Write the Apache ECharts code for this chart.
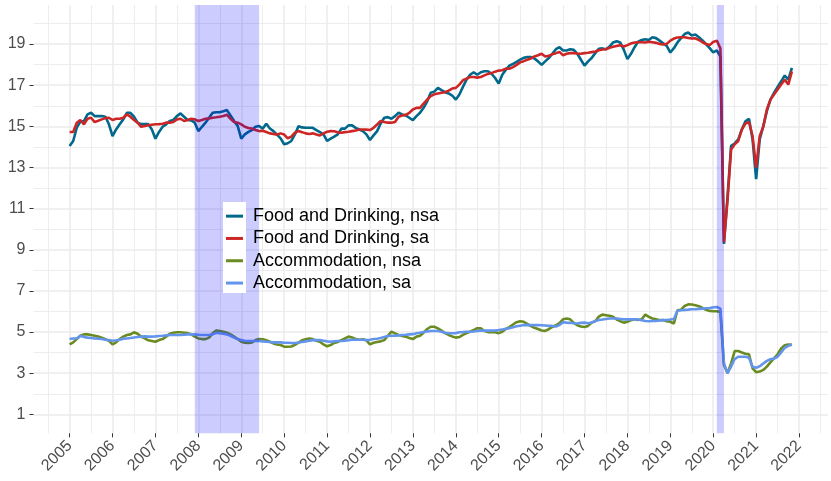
<!DOCTYPE html>
<html lang="en">
<head>
    <meta charset="UTF-8">
    <title>Food and Drinking / Accommodation</title>
    <script src="https://cdn.jsdelivr.net/npm/echarts@6/dist/echarts.min.js"></script>
    <style>html, body { margin: 0; padding: 0; background: #fff; }</style>
</head>
<body>
    <div id="chart" style="width: 831px; height: 481px;"></div>
    <script>
        // monthly series, first value = Jan 2005
        const startYear = 2005;

        const foodNsa = [
            14.05, 14.29, 14.94, 15.23, 15.26, 15.58, 15.66, 15.5, 15.5, 15.5, 15.47, 15.1,
            14.53, 14.85, 15.1, 15.34, 15.66, 15.66, 15.47, 15.18, 15.11, 15.11, 15.11, 14.85,
            14.4, 14.73, 14.98, 15.1, 15.26, 15.31, 15.5, 15.63, 15.47, 15.31, 15.29, 15.18,
            14.77, 14.98, 15.18, 15.42, 15.66, 15.69, 15.69, 15.74, 15.79, 15.53, 15.26, 15.02,
            14.4, 14.61, 14.73, 14.82, 14.98, 15.02, 14.89, 15.13, 14.9, 14.77, 14.6, 14.42,
            14.13, 14.18, 14.29, 14.61, 15.01, 14.95, 14.93, 14.93, 14.93, 14.82, 14.72, 14.61,
            14.29, 14.4, 14.5, 14.61, 14.89, 14.89, 15.05, 15.05, 14.93, 14.85, 14.77, 14.61,
            14.34, 14.56, 14.77, 15.14, 15.42, 15.45, 15.37, 15.5, 15.66, 15.58, 15.53, 15.42,
            15.3, 15.5, 15.66, 15.9, 16.22, 16.63, 16.69, 16.87, 16.76, 16.66, 16.6, 16.5,
            16.3, 16.55, 16.92, 17.27, 17.51, 17.63, 17.51, 17.63, 17.68, 17.68, 17.56, 17.35,
            17.08, 17.51, 17.75, 17.95, 18.04, 18.14, 18.24, 18.33, 18.37, 18.37, 18.3, 18.16,
            17.99, 18.16, 18.32, 18.53, 18.75, 18.85, 18.69, 18.69, 18.75, 18.72, 18.53, 18.24,
            17.95, 18.16, 18.32, 18.56, 18.77, 18.79, 18.75, 18.88, 19.08, 19.14, 19.08, 18.72,
            18.27, 18.53, 18.85, 19.12, 19.2, 19.24, 19.2, 19.33, 19.29, 19.17, 19.04, 18.91,
            18.59, 18.8, 19.08, 19.29, 19.49, 19.56, 19.42, 19.47, 19.33, 19.18, 19.0, 18.8,
            18.6, 18.69, 18.4, 9.29, 11.6, 14.05, 14.17, 14.37, 14.85, 15.25, 15.37, 14.37,
            12.43, 14.37, 15.01, 15.74, 16.3, 16.63, 16.92, 17.19, 17.47, 17.27, 17.84
        ];

        const foodSa = [
            14.73, 14.73, 15.18, 15.31, 15.1, 15.37, 15.42, 15.21, 15.27, 15.34, 15.4, 15.42,
            15.31, 15.37, 15.37, 15.42, 15.58, 15.47, 15.31, 15.18, 14.98, 15.02, 15.05, 15.08,
            15.1, 15.11, 15.13, 15.18, 15.18, 15.21, 15.34, 15.37, 15.26, 15.31, 15.37, 15.34,
            15.26, 15.31, 15.37, 15.39, 15.42, 15.44, 15.47, 15.5, 15.56, 15.37, 15.21, 15.18,
            15.1, 14.98, 14.92, 14.89, 14.82, 14.77, 14.79, 14.73, 14.66, 14.63, 14.6, 14.66,
            14.6, 14.42, 14.5, 14.69, 14.77, 14.72, 14.66, 14.63, 14.66, 14.61, 14.56, 14.66,
            14.74, 14.77, 14.76, 14.71, 14.69, 14.72, 14.74, 14.77, 14.8, 14.85, 14.85, 14.84,
            14.82, 14.93, 15.09, 15.26, 15.21, 15.18, 15.18, 15.21, 15.47, 15.53, 15.56, 15.66,
            15.82, 15.9, 15.9, 16.11, 16.3, 16.47, 16.56, 16.6, 16.63, 16.66, 16.74, 16.84,
            16.87, 17.03, 17.24, 17.32, 17.4, 17.4, 17.37, 17.4, 17.48, 17.55, 17.59, 17.66,
            17.71, 17.73, 17.81, 17.8, 17.88, 17.99, 18.11, 18.17, 18.24, 18.3, 18.4, 18.46,
            18.53, 18.4, 18.43, 18.51, 18.56, 18.62, 18.46, 18.53, 18.56, 18.56, 18.54, 18.53,
            18.56, 18.58, 18.61, 18.64, 18.7, 18.74, 18.75, 18.82, 18.87, 18.91, 18.95, 18.88,
            18.95, 19.03, 19.08, 19.09, 19.09, 19.08, 19.11, 19.09, 19.06, 19.01, 18.98, 19.01,
            19.17, 19.27, 19.32, 19.33, 19.33, 19.3, 19.27, 19.28, 19.2, 19.09, 19.0, 18.95,
            19.1, 19.17, 18.8, 9.37, 11.4, 13.88, 14.13, 14.29, 14.85, 15.14, 15.21, 14.53,
            12.99, 14.53, 14.98, 15.82, 16.3, 16.55, 16.79, 17.03, 17.27, 17.03, 17.67
        ];

        const accomNsa = [
            4.4, 4.5, 4.66, 4.82, 4.89, 4.89, 4.86, 4.82, 4.78, 4.73, 4.66, 4.57,
            4.4, 4.5, 4.66, 4.78, 4.86, 4.89, 4.99, 4.92, 4.78, 4.69, 4.6, 4.57,
            4.53, 4.61, 4.66, 4.78, 4.92, 4.97, 4.99, 4.99, 4.97, 4.95, 4.89, 4.78,
            4.69, 4.66, 4.66, 4.73, 4.94, 5.08, 5.05, 5.02, 4.97, 4.89, 4.78, 4.66,
            4.53, 4.48, 4.47, 4.5, 4.61, 4.66, 4.65, 4.6, 4.53, 4.45, 4.4, 4.37,
            4.29, 4.29, 4.3, 4.38, 4.49, 4.6, 4.65, 4.69, 4.66, 4.58, 4.53, 4.4,
            4.31, 4.37, 4.47, 4.52, 4.61, 4.69, 4.78, 4.74, 4.66, 4.63, 4.65, 4.6,
            4.4, 4.48, 4.52, 4.55, 4.61, 4.82, 5.02, 4.94, 4.86, 4.81, 4.78, 4.71,
            4.66, 4.78, 4.82, 4.97, 5.15, 5.26, 5.26, 5.18, 5.07, 4.95, 4.86, 4.79,
            4.73, 4.76, 4.86, 4.95, 5.02, 5.1, 5.19, 5.18, 5.05, 5.0, 4.99, 4.99,
            4.95, 5.02, 5.15, 5.24, 5.37, 5.48, 5.53, 5.5, 5.4, 5.29, 5.21, 5.15,
            5.08, 5.06, 5.14, 5.25, 5.33, 5.43, 5.62, 5.66, 5.62, 5.45, 5.33, 5.27,
            5.25, 5.3, 5.46, 5.53, 5.75, 5.85, 5.82, 5.79, 5.74, 5.61, 5.53, 5.46,
            5.5, 5.58, 5.62, 5.59, 5.62, 5.85, 5.74, 5.66, 5.62, 5.58, 5.59, 5.53,
            5.5, 5.42, 6.06, 6.09, 6.27, 6.35, 6.34, 6.3, 6.26, 6.17, 6.08, 6.03,
            6.01, 6.01, 5.98, 3.4, 3.0, 3.48, 4.08, 4.08, 4.01, 3.95, 3.92, 3.24,
            3.05, 3.08, 3.16, 3.32, 3.53, 3.72, 3.92, 4.2, 4.36, 4.4, 4.38
        ];

        const accomSa = [
            4.66, 4.69, 4.69, 4.82, 4.76, 4.73, 4.71, 4.69, 4.68, 4.66, 4.63, 4.61,
            4.58, 4.6, 4.63, 4.68, 4.69, 4.71, 4.74, 4.76, 4.78, 4.79, 4.78, 4.78,
            4.79, 4.81, 4.82, 4.84, 4.86, 4.86, 4.86, 4.86, 4.87, 4.89, 4.89, 4.89,
            4.87, 4.86, 4.86, 4.86, 4.89, 4.97, 4.94, 4.92, 4.89, 4.82, 4.73, 4.66,
            4.61, 4.58, 4.57, 4.57, 4.57, 4.57, 4.55, 4.53, 4.52, 4.5, 4.5, 4.5,
            4.48, 4.48, 4.47, 4.47, 4.49, 4.52, 4.55, 4.58, 4.61, 4.61, 4.61, 4.58,
            4.55, 4.53, 4.55, 4.57, 4.57, 4.58, 4.61, 4.63, 4.63, 4.63, 4.63, 4.61,
            4.63, 4.66, 4.68, 4.71, 4.76, 4.81, 4.82, 4.82, 4.84, 4.86, 4.87, 4.89,
            4.9, 4.94, 4.97, 5.0, 5.03, 5.05, 5.05, 5.05, 5.02, 4.97, 4.95, 4.94,
            4.95, 4.99, 5.0, 5.02, 5.02, 5.03, 5.05, 5.07, 5.07, 5.07, 5.07, 5.08,
            5.1, 5.13, 5.16, 5.19, 5.24, 5.28, 5.31, 5.34, 5.34, 5.34, 5.34, 5.34,
            5.33, 5.32, 5.3, 5.3, 5.27, 5.34, 5.48, 5.46, 5.45, 5.43, 5.42, 5.45,
            5.46, 5.43, 5.46, 5.54, 5.59, 5.61, 5.64, 5.66, 5.66, 5.66, 5.64, 5.62,
            5.62, 5.62, 5.62, 5.61, 5.58, 5.54, 5.53, 5.54, 5.54, 5.56, 5.58, 5.59,
            5.61, 5.64, 6.04, 6.06, 6.08, 6.09, 6.11, 6.11, 6.13, 6.14, 6.16, 6.17,
            6.2, 6.22, 6.14, 3.48, 3.0, 3.32, 3.69, 3.8, 3.8, 3.8, 3.75, 3.32,
            3.27, 3.34, 3.47, 3.6, 3.68, 3.71, 3.8, 4.01, 4.24, 4.33, 4.4
        ];

        const seriesNames = ['Food and Drinking, nsa', 'Food and Drinking, sa',
                             'Accommodation, nsa', 'Accommodation, sa'];
        const seriesColors = ['#00688B', '#CD2626', '#698B22', '#6495ED'];

        // recessions (decimal years, start / end month)
        const recessions = [[2007 + 11 / 12, 2009 + 5 / 12], [2020 + 1 / 12, 2020 + 3 / 12]];

        // axis ticks
        const yearTicks = [];
        for (let y = 2005; y <= 2022; y++) yearTicks.push(y);
        const yTicks = [1, 3, 5, 7, 9, 11, 13, 15, 17, 19];

        var myChart = echarts.init(document.getElementById('chart'));

        const toPoints = arr => arr.map((v, i) => [startYear + i / 12, v]);

        // ggplot-like background grid (major + minor)
        const gridLines = [];
        yearTicks.forEach(y => {
            gridLines.push({ xAxis: y, lineStyle: { width: 1.5 } });
            gridLines.push({ xAxis: y - 0.5, lineStyle: { width: 0.9 } });
        });
        gridLines.push({ xAxis: 2022.5, lineStyle: { width: 0.9 } });
        yTicks.forEach(v => {
            gridLines.push({ yAxis: v, lineStyle: { width: 1.5 } });
            gridLines.push({ yAxis: v + 1, lineStyle: { width: 0.9 } });
        });

        const font = 'Liberation Sans, Arial, sans-serif';

        const lineSeries = [foodNsa, foodSa, accomNsa, accomSa].map((arr, i) => ({
            name: seriesNames[i],
            type: 'line',
            data: toPoints(arr),
            showSymbol: false,
            symbol: 'none',
            color: seriesColors[i],
            lineStyle: { width: 2.6, color: seriesColors[i] },
            z: 3 + i
        }));

        const option = {
            animation: false,
            backgroundColor: '#fff',
            grid: { left: 33.5, right: 3, top: 5, bottom: 47.7, containLabel: false, outerBoundsMode: 'none' },
            xAxis: {
                type: 'value',
                min: 2004.158,
                max: 2022.675,
                axisLine: { show: false },
                splitLine: { show: false },
                axisTick: { show: true, length: 4, customValues: yearTicks,
                            lineStyle: { color: '#333', width: 1 } },
                axisLabel: {
                    customValues: yearTicks,
                    rotate: 45,
                    margin: 10,
                    fontSize: 16,
                    fontFamily: font,
                    color: '#4d4d4d',
                    formatter: v => String(v)
                }
            },
            yAxis: {
                type: 'value',
                min: 0.08,
                max: 20.9,
                axisLine: { show: false },
                splitLine: { show: false },
                axisTick: { show: true, length: 4, customValues: yTicks,
                            lineStyle: { color: '#333', width: 1 } },
                axisLabel: {
                    customValues: yTicks,
                    margin: 8,
                    fontSize: 16,
                    fontFamily: font,
                    color: '#4d4d4d'
                }
            },
            legend: {
                data: seriesNames,
                orient: 'vertical',
                left: 226,
                top: 205,
                padding: 0,
                itemGap: 0,
                itemWidth: 17,
                itemHeight: 3,
                icon: 'rect',
                z: 101,
                textStyle: {
                    fontSize: 18,
                    fontFamily: font,
                    color: '#000',
                    lineHeight: 22.3,
                    padding: [0, 0, 0, 5]
                }
            },
            graphic: [{
                type: 'rect',
                z: 100,
                shape: { x: 223, y: 202, width: 23, height: 91 },
                style: { fill: '#fff' }
            }],
            series: [
                {
                    name: 'grid',
                    type: 'line',
                    data: [],
                    z: 0,
                    silent: true,
                    markLine: {
                        z: 0,
                        silent: true,
                        symbol: ['none', 'none'],
                        label: { show: false },
                        lineStyle: { color: '#ebebeb', type: 'solid', width: 1 },
                        emphasis: { disabled: true },
                        data: gridLines
                    }
                },
                ...lineSeries,
                {
                    name: 'recession',
                    type: 'line',
                    data: [],
                    z: 10,
                    silent: true,
                    markArea: {
                        z: 10,
                        silent: true,
                        itemStyle: { color: 'rgba(0, 0, 255, 0.2)' },
                        data: recessions.map(r => [{ xAxis: r[0] }, { xAxis: r[1] }])
                    }
                }
            ]
        };

        myChart.setOption(option);
    </script>
</body>
</html>
